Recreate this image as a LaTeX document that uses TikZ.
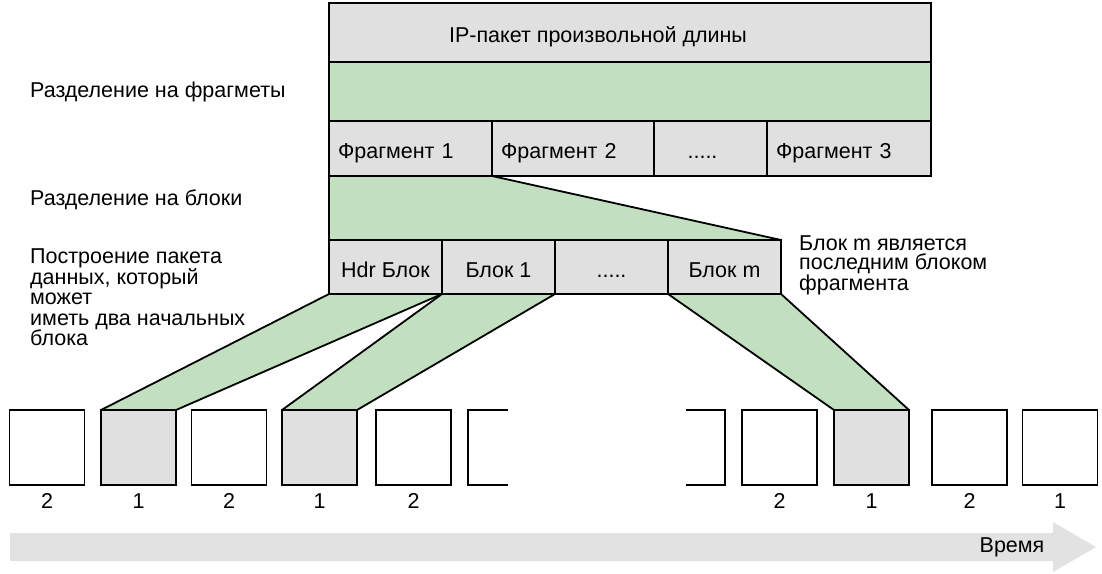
\documentclass[tikz,border=0pt]{standalone}
\usepackage{fontspec}
\setmainfont{Liberation Sans}
\definecolor{cellgray}{HTML}{E0E0E0}
\definecolor{bandgreen}{HTML}{C2E0C0}
\definecolor{timegray}{HTML}{E2E2E2}
\tikzset{
	cell/.style={draw, fill=cellgray, line width=1.8pt, inner sep=0pt, outer sep=0pt, anchor=north west, minimum height=55pt, text height=20.4pt, text depth=0pt, font=\fontsize{21.5}{24}\selectfont},
	fragcell/.style={cell, align=left, inner xsep=9pt},
	band/.style={draw, fill=bandgreen, line width=1.8pt, line join=round},
	slot/.style={draw, fill=white, line width=1.8pt, inner sep=0pt, outer sep=0pt, minimum width=75pt, minimum height=75pt},
	num/.style={inner sep=0pt, font=\fontsize{21.5}{24}\selectfont},
	caption/.style={anchor=west, align=left, inner sep=0pt, font=\fontsize{21.5}{20.6}\selectfont},
}
\begin{document}
\begin{tikzpicture}[x=1pt,y=-1pt]
	\useasboundingbox (0,0) rectangle (1102,573);
	% packet and fragments
	\node[cell, minimum width=602pt, minimum height=59pt] (ip) at (329,3) {IP-пакет произвольной длины\hspace*{64pt}};
	\node[cell, fill=bandgreen, minimum width=602pt, minimum height=59pt] (split) at (ip.south west) {};
	\node[fragcell, minimum width=163pt, text width=145pt] (frag1) at (split.south west) {Фрагмент 1};
	\node[fragcell, minimum width=162pt, text width=144pt] (frag2) at (frag1.north east) {Фрагмент 2};
	\node[cell, minimum width=113pt] (fdots) at (frag2.north east) {.....\hspace*{16pt}};
	\node[fragcell, minimum width=164pt, text width=146pt] (frag3) at (fdots.north east) {Фрагмент 3};
	% blocks of fragment 1
	\node[cell, minimum width=113pt, minimum height=54pt] (hdr) at (329,240) {Hdr Блок};
	\node[cell, minimum width=113pt, minimum height=54pt] (blk1) at (hdr.north east) {Блок 1};
	\node[cell, minimum width=113pt, minimum height=54pt] (bdots) at (blk1.north east) {.....};
	\node[cell, minimum width=113pt, minimum height=54pt] (blkm) at (bdots.north east) {Блок m};
	\draw[band] (frag1.south west) -- (frag1.south east) -- (blkm.north east) -- (hdr.north west) -- cycle;
	% time slots
	\node[slot] (s1) at (47,447.5) {};
	\node[slot, fill=cellgray] (s2) at (138.5,447.5) {};
	\node[slot] (s3) at (229,447.5) {};
	\node[slot, fill=cellgray] (s4) at (319.5,447.5) {};
	\node[slot] (s5) at (413.5,447.5) {};
	\node[slot] (s7) at (779.5,447.5) {};
	\node[slot, fill=cellgray] (s8) at (871.5,447.5) {};
	\node[slot] (s9) at (969.5,447.5) {};
	\node[slot] (s10) at (1060,447.5) {};
	\draw[line width=1.8pt] (508,410) -- (468,410) -- (468,485) -- (508,485);
	\draw[line width=1.8pt] (686,410) -- (725,410) -- (725,485) -- (686,485);
	\draw[band] (hdr.south west) -- (hdr.south east) -- (s2.north east) -- (s2.north west) -- cycle;
	\draw[band] (blk1.south west) -- (blk1.south east) -- (s4.north east) -- (s4.north west) -- cycle;
	\draw[band] (blkm.south west) -- (blkm.south east) -- (s8.north east) -- (s8.north west) -- cycle;
	\node[num] (n1) at ([yshift=-16pt]s1.south) {2};
	\node[num] (n2) at ([yshift=-16pt]s2.south) {1};
	\node[num] (n3) at ([yshift=-16pt]s3.south) {2};
	\node[num] (n4) at ([yshift=-16pt]s4.south) {1};
	\node[num] (n5) at ([yshift=-16pt]s5.south) {2};
	\node[num] (n7) at ([yshift=-16pt]s7.south) {2};
	\node[num] (n8) at ([yshift=-16pt]s8.south) {1};
	\node[num] (n9) at ([yshift=-16pt]s9.south) {2};
	\node[num] (n10) at ([yshift=-16pt]s10.south) {1};
	% time arrow
	\fill[timegray] (10,533) -- (1053,533) -- (1053,522) -- (1096,547) -- (1053,572) -- (1053,561) -- (10,561) -- cycle;
	\node[num] (time) at (1012,547) {Время};
	% captions
	\node[caption] (cfrag) at (30,92) {Разделение на фрагметы};
	\node[caption] (cblk) at (30,200) {Разделение на блоки};
	\node[caption] (cpkt) at (30,297.5) {Построение пакета\\данных, который\\может\\иметь два начальных\\блока};
	\node[caption, font=\fontsize{21.5}{19.4}\selectfont] (clast) at (799,265.5) {Блок m является\\последним блоком\\фрагмента};
\end{tikzpicture}
\end{document}
